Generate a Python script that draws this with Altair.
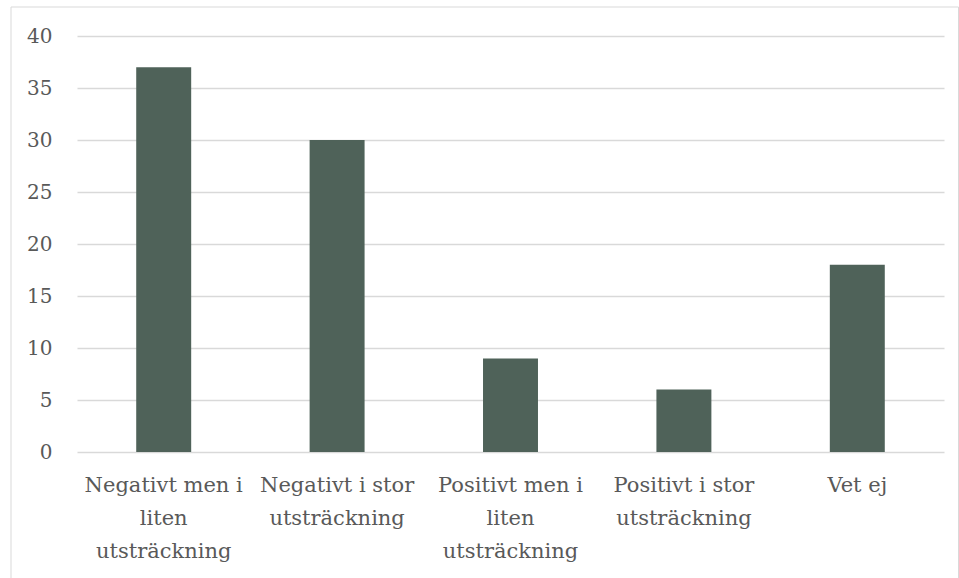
import altair as alt
import pandas as pd

categories = [
    "Negativt men i liten utsträckning",
    "Negativt i stor utsträckning",
    "Positivt men i liten utsträckning",
    "Positivt i stor utsträckning",
    "Vet ej",
]
values = [37, 30, 9, 6, 18]
wrapped = {
    "Negativt men i liten utsträckning": ["Negativt men i", "liten", "utsträckning"],
    "Negativt i stor utsträckning": ["Negativt i stor", "utsträckning"],
    "Positivt men i liten utsträckning": ["Positivt men i", "liten", "utsträckning"],
    "Positivt i stor utsträckning": ["Positivt i stor", "utsträckning"],
    "Vet ej": ["Vet ej"],
}
y_ticks = [0, 5, 10, 15, 20, 25, 30, 35, 40]

df = pd.DataFrame({"kategori": categories, "antal": values})

FONT = "DejaVu Serif"
TEXT = "#595959"
GRID = "#d9d9d9"
BAR = "#4f6259"

label_expr = " : ".join(
    f"datum.label == '{k}' ? {v!r}" for k, v in wrapped.items()
) + " : datum.label"

W, H = 867, 416

frame = alt.Chart(pd.DataFrame({"a": [0]})).mark_rect(
    fill=None, stroke=GRID, strokeWidth=1
).encode(
    x=alt.value(-66), x2=alt.value(881.5), y=alt.value(-29), y2=alt.value(700)
)

bars = alt.Chart(df).mark_bar(color=BAR).encode(
    x=alt.X(
        "kategori:N",
        sort=categories,
        scale=alt.Scale(paddingInner=0.683, paddingOuter=0.3415),
        axis=alt.Axis(
            title=None,
            labelAngle=0,
            labelExpr=label_expr,
            labelFont=FONT,
            labelFontSize=21,
            labelColor=TEXT,
            labelLineHeight=33,
            labelPadding=22,
            labelLimit=300,
            domain=False,
            ticks=False,
        ),
    ),
    y=alt.Y(
        "antal:Q",
        scale=alt.Scale(domain=[0, 40], nice=False),
        axis=alt.Axis(
            title=None,
            values=y_ticks,
            labelFont=FONT,
            labelFontSize=20,
            labelColor=TEXT,
            labelPadding=25,
            domain=False,
            ticks=False,
            grid=True,
            gridColor=GRID,
            gridWidth=1.5,
        ),
    ),
)

chart = alt.layer(frame, bars).properties(
    width=W,
    height=H,
    padding={"left": 77, "top": 36, "right": 15, "bottom": 126},
    autosize=alt.AutoSizeParams(type="none"),
).configure(background="white", view=alt.ViewConfig(stroke=None))

chart.save("out.html", embed_options={"renderer": "svg", "actions": False})
